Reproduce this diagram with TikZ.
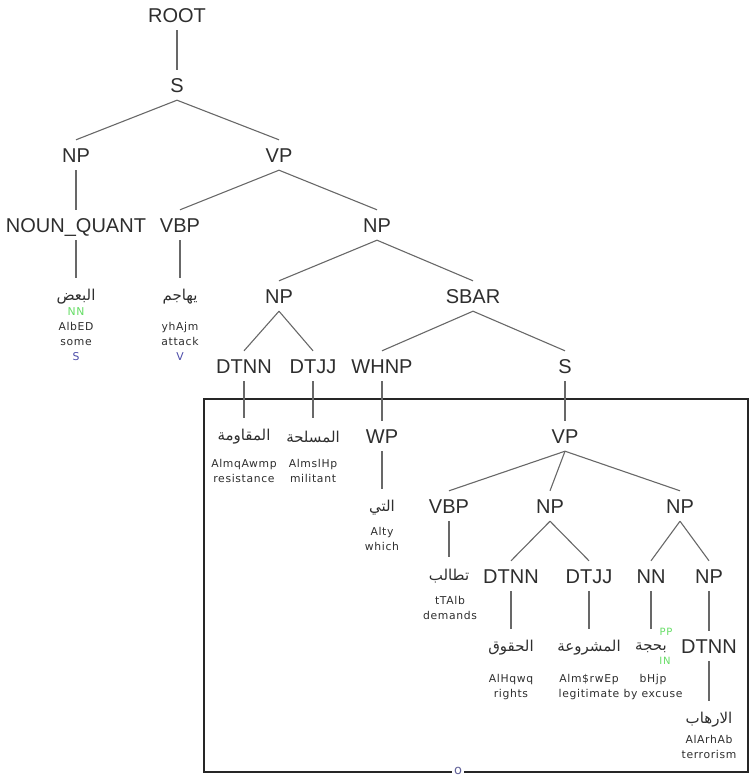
\documentclass[tikz,border=0pt]{standalone}
\usepackage{fontspec}
\setmainfont{Liberation Sans}
\newfontfamily\catfont{Liberation Sans}
\newfontfamily\glossfont[LetterSpace=6]{DejaVu Sans}
\newfontfamily\arfont[Script=Arabic]{DejaVu Sans}
\TeXXeTstate=1
\definecolor{ink}{HTML}{2E2E2E}
\definecolor{edgec}{HTML}{686868}
\definecolor{tagc}{HTML}{66DD66}
\definecolor{rolec}{HTML}{4B4BA8}
\begin{document}
\begin{tikzpicture}[x=1pt, y=-1pt,
    cat/.style={font=\catfont\fontsize{20}{24}\selectfont, text=ink, inner sep=0pt,
                text height=14.3pt, text depth=0pt, minimum height=30pt},
    word/.style={font=\arfont\fontsize{15}{17}\selectfont, text=ink, inner sep=0pt,
                 minimum height=38pt},
    gloss/.style={font=\glossfont\fontsize{10.8}{15}\selectfont, text=ink, align=center,
                  inner sep=0pt, anchor=north},
    tagword/.style={font=\glossfont\fontsize{10}{12}\selectfont, text=tagc, inner sep=0pt},
    edge/.style={draw=edgec, line width=1.1pt}
  ]
    \useasboundingbox (0,0) rectangle (751,778);
    % frame round the relative clause
    \draw[black!85, line width=1.2pt] (204,399) rectangle (748,772);
    \node[gloss, anchor=center, fill=white, inner sep=2pt, font=\glossfont\fontsize{13}{13}\selectfont,
          text=rolec!60!gray] (pin) at (458,771) {o};

    % tree
    \node[cat] (root) at (177,15) {ROOT};
    \node[cat] (s) at (177,85) {S};
    \node[cat] (np1) at (76,155) {NP};
    \node[cat] (vp1) at (279,155) {VP};
    \node[cat] (nq) at (76,225) {NOUN\_QUANT};
    \node[cat] (vbp1) at (180,225) {VBP};
    \node[cat] (np2) at (377,225) {NP};
    \node[cat] (np3) at (279,296) {NP};
    \node[cat] (sbar) at (473,296) {SBAR};
    \node[cat] (dtnn1) at (244,366) {DTNN};
    \node[cat] (dtjj1) at (313,366) {DTJJ};
    \node[cat] (whnp) at (382,366) {WHNP};
    \node[cat] (s2) at (565,366) {S};
    \node[cat] (wp) at (382,436) {WP};
    \node[cat] (vp2) at (565,436) {VP};
    \node[cat] (vbp2) at (449,506) {VBP};
    \node[cat] (np4) at (550,506) {NP};
    \node[cat] (np5) at (680,506) {NP};
    \node[cat] (dtnn2) at (511,576) {DTNN};
    \node[cat] (dtjj2) at (589,576) {DTJJ};
    \node[cat] (nn) at (651,576) {NN};
    \node[cat] (np6) at (709,576) {NP};
    \node[cat] (dtnn3) at (709,646) {DTNN};

    % words
    \node[word] (w1) at (76,297) {\beginR البعض\endR};
    \node[word] (w2) at (180,297) {\beginR يهاجم\endR};
    \node[word] (w3) at (244,437) {\beginR المقاومة\endR};
    \node[word] (w4) at (313,437) {\beginR المسلحة\endR};
    \node[word] (w5) at (382,508) {\beginR التي\endR};
    \node[word] (w6) at (449,576) {\beginR تطالب\endR};
    \node[word] (w7) at (511,648) {\beginR الحقوق\endR};
    \node[word] (w8) at (589,648) {\beginR المشروعة\endR};
    \node[word] (w9) at (651,648) {\beginR بحجة\endR};
    \node[word] (w10) at (709,720) {\beginR الارهاب\endR};

    % glosses
    \node[gloss] (g1) at (76,307) {\textcolor{tagc}{NN}\\AlbED\\some\\\textcolor{rolec}{S}};
    \node[gloss] (g2) at (180,322) {yhAjm\\attack\\\textcolor{rolec}{V}};
    \node[gloss] (g3) at (244,459) {AlmqAwmp\\resistance};
    \node[gloss] (g4) at (313,459) {AlmslHp\\militant};
    \node[gloss] (g5) at (382,527) {Alty\\which};
    \node[gloss] (g6) at (450,596) {tTAlb\\demands};
    \node[gloss] (g7) at (511,674) {AlHqwq\\rights};
    \node[gloss] (g8) at (589,674) {Alm\$rwEp\\legitimate};
    \node[gloss] (g9) at (653,674) {bHjp\\by excuse};
    \node[gloss] (g10) at (709,735) {AlArhAb\\terrorism};
    \node[tagword] (pp) at (666,632) {PP};
    \node[tagword] (in) at (665,661) {IN};

    \foreach \a/\b in {root/s, s/np1, s/vp1, np1/nq, vp1/vbp1, vp1/np2, nq/w1, vbp1/w2,
                       np2/np3, np2/sbar, np3/dtnn1, np3/dtjj1, sbar/whnp, sbar/s2,
                       dtnn1/w3, dtjj1/w4, whnp/wp, s2/vp2, wp/w5, vp2/vbp2, vp2/np4,
                       vp2/np5, vbp2/w6, np4/dtnn2, np4/dtjj2, np5/nn, np5/np6,
                       dtnn2/w7, dtjj2/w8, nn/w9, np6/dtnn3, dtnn3/w10}
      \draw[edge] (\a.south) -- (\b.north);
  \end{tikzpicture}
\end{document}
